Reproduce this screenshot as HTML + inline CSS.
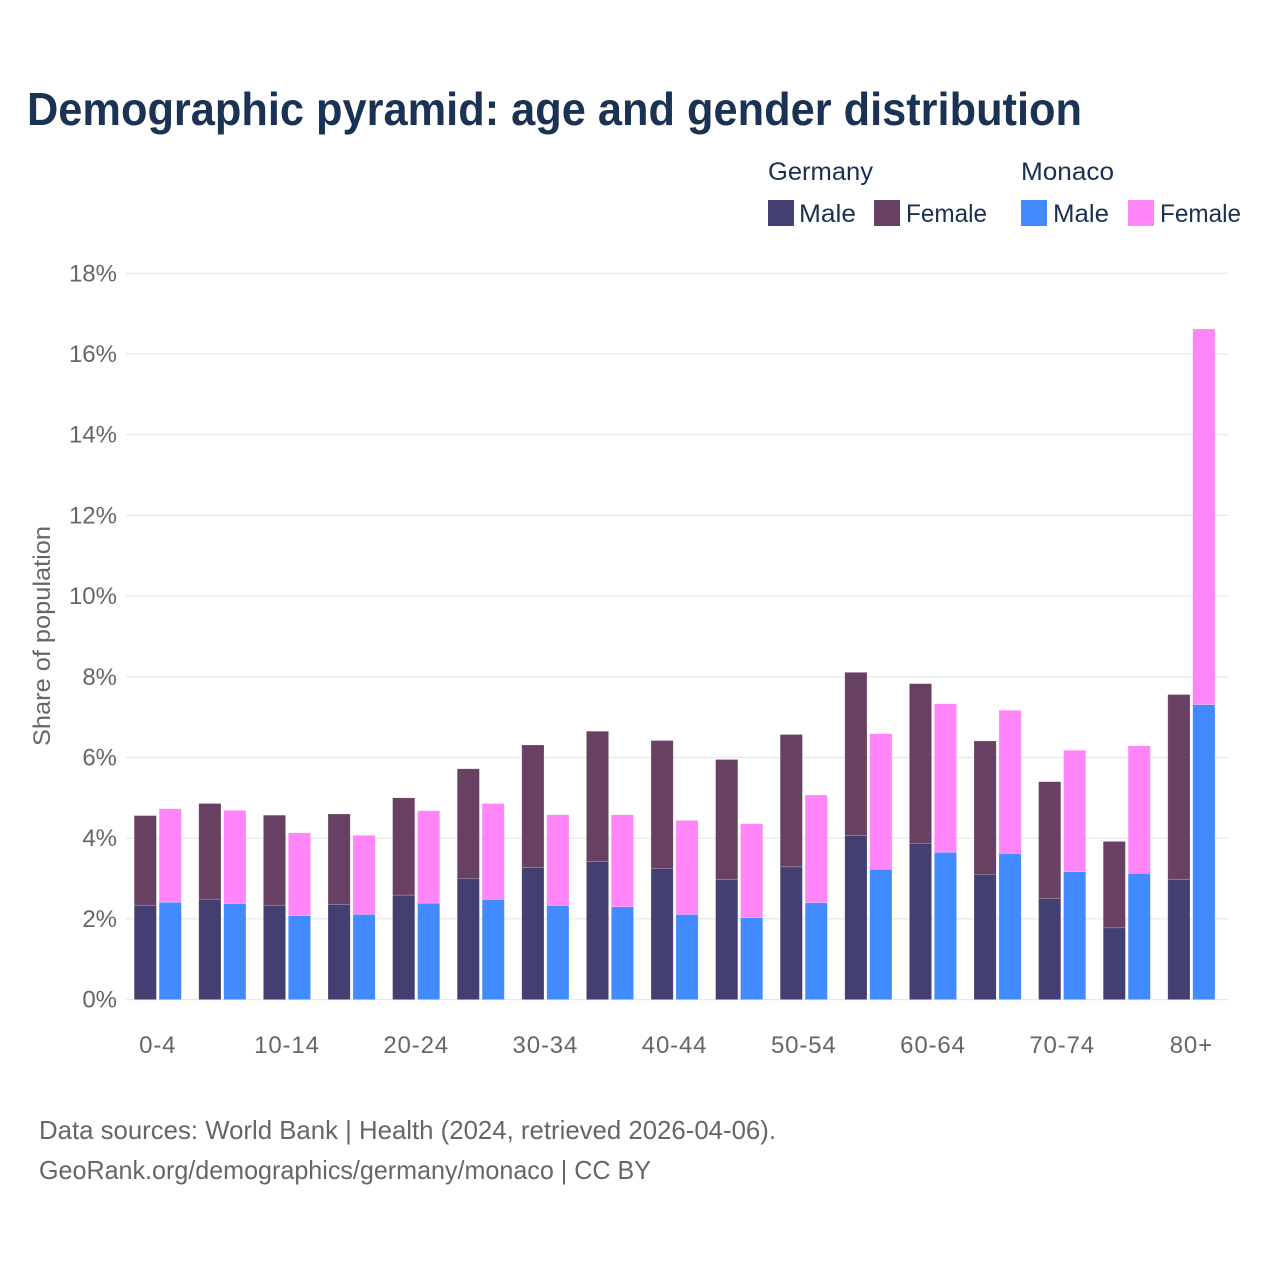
<!DOCTYPE html>
<html lang="en">
<head>
<meta charset="utf-8">
<title>Demographic pyramid: age and gender distribution</title>
<style>
html,body{margin:0;padding:0;background:#fff;}
svg{display:block;}
text{font-family:"Liberation Sans",sans-serif;}
.t{fill:#666;font-size:24px;}
.x{letter-spacing:0.85px;}
.l{fill:#1a3050;font-size:25px;}
.f{fill:#666;font-size:26px;}
</style>
</head>
<body>
<svg id="chart" width="1280" height="1280" viewBox="0 0 1280 1280" xmlns="http://www.w3.org/2000/svg">
<rect x="0" y="0" width="1280" height="1280" fill="#fff"/>
<text x="27" y="125" font-size="46" font-weight="700" fill="#1a3254" textLength="1055" lengthAdjust="spacingAndGlyphs">Demographic pyramid: age and gender distribution</text>

<g>
<text class="l" x="768" y="180" textLength="105" lengthAdjust="spacingAndGlyphs">Germany</text>
<text class="l" x="1021" y="180" textLength="93" lengthAdjust="spacingAndGlyphs">Monaco</text>
<rect x="768" y="200" width="26" height="26" fill="#433f70"/>
<text class="l" x="799" y="222" textLength="57" lengthAdjust="spacingAndGlyphs">Male</text>
<rect x="874" y="200" width="26" height="26" fill="#684162"/>
<text class="l" x="906" y="222" textLength="81" lengthAdjust="spacingAndGlyphs">Female</text>
<rect x="1021" y="200" width="26" height="26" fill="#418aff"/>
<text class="l" x="1053" y="222" textLength="56" lengthAdjust="spacingAndGlyphs">Male</text>
<rect x="1128" y="200" width="26" height="26" fill="#ff85f8"/>
<text class="l" x="1160" y="222" textLength="81" lengthAdjust="spacingAndGlyphs">Female</text>
</g>

<g id="grid"></g>
<g id="bars"></g>
<g id="yticks"></g>
<g id="xticks"></g>

<text class="t" transform="translate(50,636) rotate(-90)" text-anchor="middle" textLength="220" lengthAdjust="spacingAndGlyphs">Share of population</text>

<text class="f" x="39" y="1139" textLength="737" lengthAdjust="spacingAndGlyphs">Data sources: World Bank | Health (2024, retrieved 2026-04-06).</text>
<text class="f" x="39" y="1179" textLength="612" lengthAdjust="spacingAndGlyphs">GeoRank.org/demographics/germany/monaco | CC BY</text>
</svg>

<script>
const categories = ["0-4","5-9","10-14","15-19","20-24","25-29","30-34","35-39","40-44","45-49","50-54","55-59","60-64","65-69","70-74","75-79","80+"];
const germanyMale = [2.34,2.49,2.34,2.36,2.59,3.00,3.27,3.42,3.25,2.98,3.29,4.07,3.87,3.10,2.51,1.78,2.98];
const germanyFemale = [2.22,2.37,2.23,2.24,2.41,2.72,3.04,3.23,3.17,2.97,3.28,4.04,3.96,3.31,2.89,2.14,4.58];
const monacoMale = [2.41,2.38,2.08,2.11,2.39,2.48,2.33,2.30,2.11,2.03,2.40,3.23,3.65,3.62,3.17,3.13,7.31];
const monacoFemale = [2.32,2.31,2.05,1.96,2.29,2.38,2.25,2.28,2.33,2.33,2.67,3.36,3.68,3.55,3.01,3.16,9.31];
const yTickValues = [0,2,4,6,8,10,12,14,16,18];

const NS = "http://www.w3.org/2000/svg";
const plot = {left:126, right:1229, firstBand:134.2, step:64.6, barW:22.2, barGap:2.75, y0:999.6, pxPerUnit:40.35};
const yScale = v => plot.y0 - v * plot.pxPerUnit;
const xScale = i => plot.firstBand + i * plot.step;
const colors = {gm:"#433f70", gf:"#684162", mm:"#418aff", mf:"#ff85f8"};

const gridG = document.getElementById("grid");
const barsG = document.getElementById("bars");
const yG = document.getElementById("yticks");
const xG = document.getElementById("xticks");

yTickValues.forEach(v => {
  const line = document.createElementNS(NS, "line");
  line.setAttribute("x1", plot.left);
  line.setAttribute("x2", plot.right);
  line.setAttribute("y1", yScale(v));
  line.setAttribute("y2", yScale(v));
  line.setAttribute("stroke", "#e8e8e8");
  line.setAttribute("stroke-width", "1.2");
  
  
  gridG.appendChild(line);

  const label = document.createElementNS(NS, "text");
  label.setAttribute("class", "t");
  label.setAttribute("x", 117);
  label.setAttribute("y", yScale(v) + 8);
  label.setAttribute("text-anchor", "end");
  label.textContent = v + "%";
  
  
  yG.appendChild(label);
});

function drawBar(x, base, value, fill) {
  const r = document.createElementNS(NS, "rect");
  r.setAttribute("x", x);
  r.setAttribute("y", yScale(base + value));
  r.setAttribute("width", plot.barW);
  r.setAttribute("height", value * plot.pxPerUnit);
  r.setAttribute("fill", fill);
  r.setAttribute("stroke", "#ffffff");
  r.setAttribute("stroke-opacity", "0.3");
  r.setAttribute("stroke-width", "0.6");
  
  
  barsG.appendChild(r);
}

categories.forEach((c, i) => {
  const x1 = xScale(i);
  const x2 = x1 + plot.barW + plot.barGap;
  drawBar(x1, 0, germanyMale[i], colors.gm);
  drawBar(x1, germanyMale[i], germanyFemale[i], colors.gf);
  drawBar(x2, 0, monacoMale[i], colors.mm);
  drawBar(x2, monacoMale[i], monacoFemale[i], colors.mf);
  if (i % 2 === 0) {
    const t = document.createElementNS(NS, "text");
    t.setAttribute("class", "t x");
    t.setAttribute("x", x1 + plot.barW + plot.barGap / 2);
    t.setAttribute("y", 1053);
    t.setAttribute("text-anchor", "middle");
    t.textContent = c;
    
    
    xG.appendChild(t);
  }
});
</script>
</body>
</html>
